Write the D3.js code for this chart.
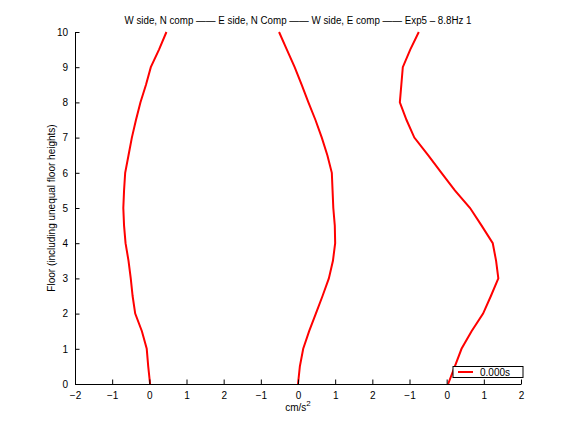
<!DOCTYPE html>
<html>
<head>
<meta charset="utf-8">
<script src="https://cdn.jsdelivr.net/npm/d3@7"></script>
<style>
  body { margin: 0; background: #fff; }
  text { font-family: "Liberation Sans", Helvetica, Arial, sans-serif; font-size: 10px; fill: #000; }
</style>
</head>
<body>
<svg id="chart" width="576" height="432"></svg>
<script>
var width = 576;
var height = 432;
var margin = {left: 75, right: 55, top: 32, bottom: 48};

// floor levels, every half floor from 0 to 10
var floors = [0, 0.5, 1, 1.5, 2, 2.5, 3, 3.5, 4, 4.5, 5, 5.5, 6, 6.5, 7, 7.5, 8, 8.5, 9, 9.5, 10];
// accelerations (cm/s^2), one array per panel
var wSideN = [0.02, -0.03, -0.07, -0.20, -0.38, -0.45, -0.50, -0.56, -0.64, -0.68, -0.70,
              -0.68, -0.65, -0.56, -0.47, -0.36, -0.24, -0.09, 0.04, 0.26, 0.46];
var eSideN = [0.00, 0.05, 0.14, 0.30, 0.48, 0.66, 0.83, 0.94, 1.00, 0.99, 0.95,
              0.93, 0.91, 0.79, 0.64, 0.47, 0.28, 0.10, -0.09, -0.30, -0.51];
var wSideE = [0.04, 0.22, 0.40, 0.67, 0.98, 1.19, 1.39, 1.33, 1.24, 0.94, 0.63,
              0.22, -0.14, -0.50, -0.87, -1.08, -1.26, -1.22, -1.18, -0.98, -0.75];
// each panel is shifted along the shared x axis
var offsets = [2, 6, 10];
var tickLabels = ["\u22122", "\u22121", "0", "1", "2", "\u22121", "0", "1", "2", "\u22121", "0", "1", "2"];
var title = "W side, N comp \u2014\u2014 E side, N Comp \u2014\u2014 W side, E comp \u2014\u2014 Exp5 \u2013 8.8Hz 1";
var legendLabel = "0.000s";

var svg = d3.select("#chart");

var scaleX = d3.scaleLinear().domain([0, 12]).range([margin.left, width - margin.right]);
var scaleY = d3.scaleLinear().domain([0, 10]).range([height - margin.bottom, margin.top]);

var line = d3.line()
    .x(function(d) { return scaleX(d[0]); })
    .y(function(d) { return scaleY(d[1]); });

[wSideN, eSideN, wSideE].forEach(function(series, k) {
    var pts = series.map(function(v, i) { return [v + offsets[k], floors[i]]; });
    svg.append("path")
        .datum(pts)
        .attr("d", line)
        .attr("fill", "none")
        .attr("stroke", "#ff0000")
        .attr("stroke-width", 2);
});

// axes (MATLAB-style inward ticks, no box)
var axisX = d3.axisBottom(scaleX)
    .tickValues(d3.range(0, 13))
    .tickFormat(function(d, i) { return tickLabels[i]; })
    .tickSizeInner(-4.5).tickSizeOuter(0).tickPadding(8);
svg.append("g")
    .attr("transform", "translate(0," + (height - margin.bottom) + ")")
    .call(axisX);

var axisY = d3.axisLeft(scaleY)
    .tickValues(d3.range(0, 11))
    .tickSizeInner(-4.5).tickSizeOuter(0).tickPadding(7);
svg.append("g")
    .attr("transform", "translate(" + margin.left + ",0)")
    .call(axisY);

svg.selectAll(".domain").attr("stroke", "#000").attr("stroke-width", 1);
svg.selectAll(".tick line").attr("stroke", "#000");
svg.selectAll(".tick text").attr("font-size", 10).attr("font-family", null).style("fill", "#000");

// title
svg.append("text")
    .attr("x", (margin.left + width - margin.right) / 2)
    .attr("y", 24)
    .attr("text-anchor", "middle")
    .attr("textLength", 347)
    .attr("lengthAdjust", "spacingAndGlyphs")
    .text(title);

// x label with superscript
var xl = svg.append("text")
    .attr("x", (margin.left + width - margin.right) / 2)
    .attr("y", 411)
    .attr("text-anchor", "middle");
xl.append("tspan").text("cm/s");
xl.append("tspan").attr("dy", -5).attr("font-size", 8).text("2");

// y label
svg.append("text")
    .attr("transform", "rotate(-90, 55, " + scaleY(5) + ")")
    .attr("x", 55)
    .attr("y", scaleY(5))
    .attr("text-anchor", "middle")
    .text("Floor (including unequal floor heights)");

// legend
var lg = svg.append("g").attr("transform", "translate(453,366.5)");
lg.append("rect")
    .attr("width", 70).attr("height", 11)
    .attr("fill", "#fff").attr("stroke", "#000").attr("stroke-width", 1);
lg.append("line")
    .attr("x1", 5).attr("x2", 20).attr("y1", 5.5).attr("y2", 5.5)
    .attr("stroke", "#ff0000").attr("stroke-width", 2);
lg.append("text").attr("x", 27).attr("y", 9.5).text(legendLabel);
</script>
</body>
</html>
